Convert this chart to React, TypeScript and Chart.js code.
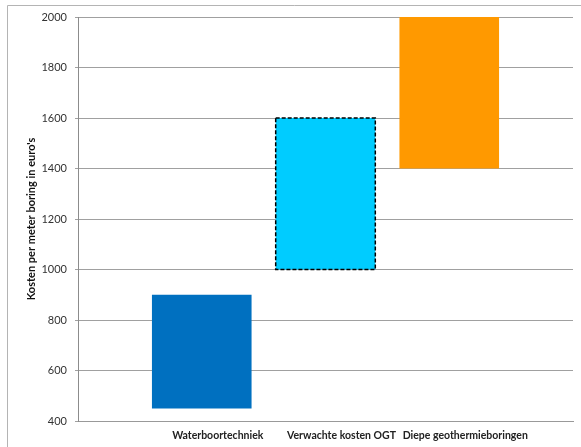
import React, { useEffect, useRef } from "react";
import { Chart, registerables } from "chart.js";

Chart.register(...registerables);

// Cost ranges per drilling method (euro per metre of borehole)
const categories = ["Waterboortechniek", "Verwachte kosten OGT", "Diepe geothermieboringen"];
const lowCosts = [450, 1000, 1400];
const highCosts = [900, 1600, 2000];
const barColors = ["#0070C0", "#00CCFF", "#FF9900"];
const outlinedCategory = "Verwachte kosten OGT";

const yMin = 400;
const yMax = 2000;
const yStep = 200;
const yTitle = "Kosten per meter boring in euro's";

// One empty slot on each side so the three bars sit on the inner tick positions
const labels = ["", ...categories, ""];
const ranges = [null, ...categories.map((_, i) => [lowCosts[i], highCosts[i]]), null];
const colors = ["transparent", ...barColors, "transparent"];

const FONT = "Lato, 'Open Sans', 'Liberation Sans', sans-serif";

const frame = {
  id: "frame",
  beforeDraw(chart: any) {
    const { ctx, width, height } = chart;
    ctx.save();
    ctx.fillStyle = "#ffffff";
    ctx.fillRect(0, 0, width, height);
    ctx.strokeStyle = "#b4b4b4";
    ctx.lineWidth = 1;
    ctx.beginPath();
    ctx.moveTo(7.5, height);
    ctx.lineTo(7.5, 5.5);
    ctx.lineTo(width, 5.5);
    ctx.stroke();
    ctx.restore();
  },
};

const dashedOutline = {
  id: "dashedOutline",
  afterDatasetsDraw(chart: any) {
    const idx = labels.indexOf(outlinedCategory);
    const bar = chart.getDatasetMeta(0).data[idx];
    if (!bar) return;
    const { x, y, base, width } = bar.getProps(["x", "y", "base", "width"], true);
    const { ctx } = chart;
    ctx.save();
    ctx.strokeStyle = "#000000";
    ctx.lineWidth = 1.5;
    ctx.setLineDash([4, 2]);
    ctx.strokeRect(x - width / 2, Math.min(y, base), width, Math.abs(base - y));
    ctx.restore();
  },
};

export default function App() {
  const canvasRef = useRef<HTMLCanvasElement | null>(null);

  useEffect(() => {
    const canvas = canvasRef.current;
    if (!canvas) return;
    const chart = new Chart(canvas, {
      type: "bar",
      data: {
        labels,
        datasets: [
          {
            data: ranges as any,
            backgroundColor: colors,
            borderWidth: 0,
            categoryPercentage: 1,
            barPercentage: 0.805,
          },
        ],
      },
      options: {
        responsive: false,
        animation: false,
        layout: { padding: { left: 8, right: 6, top: 17, bottom: 0 } },
        plugins: {
          legend: { display: false },
          tooltip: { enabled: false },
        },
        scales: {
          x: {
            offset: false,
            grid: { display: false, drawTicks: false },
            border: { display: true, color: "#999999", width: 1 },
            ticks: {
              autoSkip: false,
              maxRotation: 0,
              minRotation: 0,
              padding: 8,
              labelOffset: 16,
              color: "#222222",
              font: { family: FONT, size: 10.5, weight: "bold" },
            },
            afterFit(scale: any) {
              scale.height = 26;
            },
          },
          y: {
            min: yMin,
            max: yMax,
            grid: { color: "#a0a0a0", lineWidth: 1, drawTicks: true, tickLength: 3 },
            border: { display: true, color: "#8c8c8c", width: 1 },
            ticks: {
              stepSize: yStep,
              padding: 8,
              color: "#333333",
              font: { family: FONT, size: 11 },
              callback: (value: any) => String(value),
            },
            title: {
              display: true,
              text: yTitle,
              color: "#111111",
              padding: { top: 17, bottom: 0 },
              font: { family: FONT, size: 11, weight: "bold" },
            },
            afterFit(scale: any) {
              scale.width = 70;
            },
          },
        },
      },
      plugins: [frame, dashedOutline],
    });
    return () => chart.destroy();
  }, []);

  return (
    <div style={{ position: "fixed", left: 0, top: 0, width: 581, height: 447, background: "#fff" }}>
      <canvas ref={canvasRef} width={581} height={447} style={{ display: "block" }} />
    </div>
  );
}
